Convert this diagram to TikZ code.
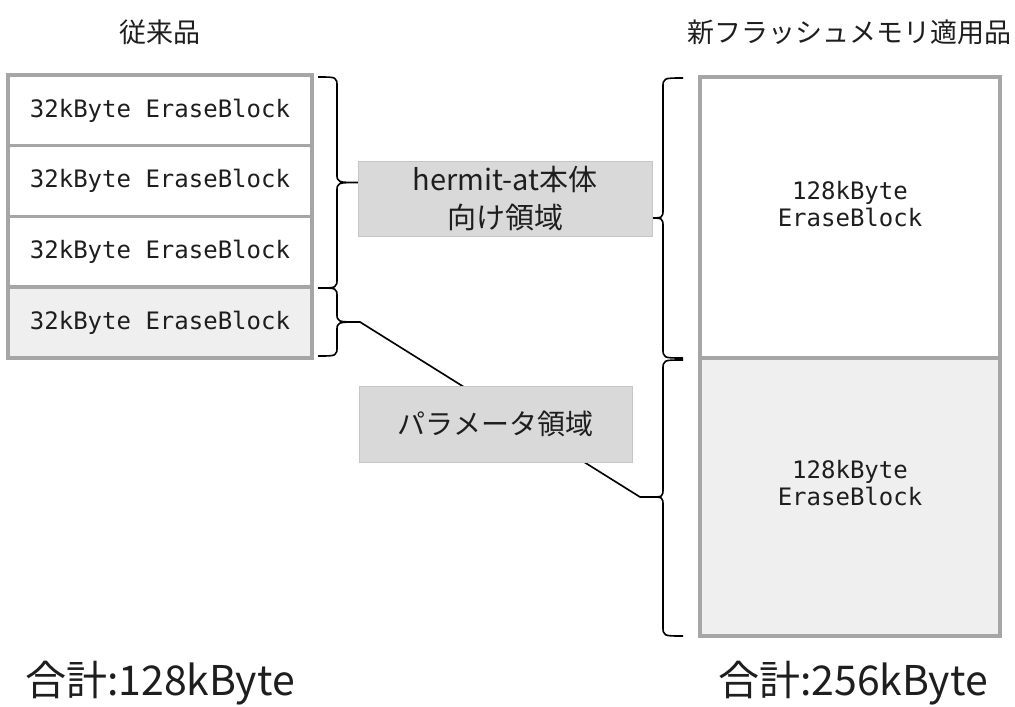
\documentclass[tikz,border=0pt]{standalone}
\usepackage{fontspec}
\setmainfont{Noto Sans CJK JP}
\newfontfamily\monof{DejaVu Sans Mono}
\definecolor{blkborder}{HTML}{A6A6A6}
\definecolor{lightfill}{HTML}{EFEFEF}
\definecolor{midfill}{HTML}{D9D9D9}
\definecolor{midborder}{HTML}{C6C6C6}
\definecolor{txt}{HTML}{1E1E1E}
\tikzset{
  blk/.style={draw=blkborder, line width=3.5pt, fill=white, inner sep=0pt, outer sep=0pt},
  monotext/.style={text=txt, font=\monof\fontsize{24}{27}\selectfont, align=center, inner sep=0pt},
  midbox/.style={draw=midborder, line width=0.8pt, fill=midfill, inner sep=0pt, outer sep=0pt, text=txt, align=center},
  bracestyle/.style={draw=black, line width=1.6pt, line join=round},
  conn/.style={draw=black, line width=1.6pt, line join=round},
  title/.style={text=txt, font=\fontsize{27}{30}\selectfont, inner sep=0pt},
  total/.style={text=txt, font=\fontsize{41}{46}\selectfont, inner sep=0pt}
}
\begin{document}
\begin{tikzpicture}[x=1pt,y=-1pt]
\useasboundingbox (0,0) rectangle (1015,707);

% titles
\node[title] (t1) at (160,32) {従来品};
\node[title] (t2) at (849,32) {新フラッシュメモリ適用品};

% left blocks
\node[blk, minimum width=304pt, minimum height=70.75pt] (b1) at (160,110.4) {};
\node[blk, minimum width=304pt, minimum height=70.75pt] (b2) at (160,181.1) {};
\node[blk, minimum width=304pt, minimum height=70.75pt] (b3) at (160,251.9) {};
\node[blk, fill=lightfill, minimum width=304pt, minimum height=70.75pt] (b4) at (160,322.6) {};
\node[monotext] (b1t) at (b1.center) {32kByte EraseBlock};
\node[monotext] (b2t) at (b2.center) {32kByte EraseBlock};
\node[monotext] (b3t) at (b3.center) {32kByte EraseBlock};
\node[monotext] (b4t) at (b4.center) {32kByte EraseBlock};

% right blocks
\node[blk, minimum width=300pt, minimum height=281pt] (r1) at (850,217.5) {};
\node[blk, fill=lightfill, minimum width=300pt, minimum height=278pt] (r2) at (850,497) {};
\node[monotext] (r1t) at (850,204) {128kByte\\EraseBlock};
\node[monotext] (r2t) at (850,483.5) {128kByte\\EraseBlock};

% brace tips
\coordinate (tipA) at (360,182.5);
\coordinate (tipB) at (360,322);
\coordinate (tipC) at (648,218);
\coordinate (tipD) at (650,497);
\coordinate (bend) at (640,497);

% connector (behind parameter box)
\draw[conn] (tipB) -- (bend) -- (tipD);

% braces
\draw[bracestyle] (318,77) .. controls (337,77) .. (337,87) -- (337,173.5) .. controls (337,182.5) .. (tipA)
  .. controls (337,182.5) .. (337,191.5) -- (337,278) .. controls (337,288) .. (318,288);
\draw[bracestyle] (318,288) .. controls (337,288) .. (337,297) -- (337,313) .. controls (337,322) .. (tipB)
  .. controls (337,322) .. (337,331) -- (337,346) .. controls (337,356) .. (318,356);
\draw[bracestyle] (683,78) .. controls (663,78) .. (663,88) -- (663,209) .. controls (663,218) .. (tipC)
  .. controls (663,218) .. (663,227) -- (663,348) .. controls (663,358) .. (683,358);
\draw[bracestyle] (683,360) .. controls (663,360) .. (663,370) -- (663,488) .. controls (663,497) .. (tipD)
  .. controls (663,497) .. (663,506) -- (663,626) .. controls (663,636) .. (683,636);

% middle boxes
\node[midbox, minimum width=294pt, minimum height=75pt, font=\fontsize{29}{38}\selectfont] (herm) at (505,198.5) {hermit-at本体\\向け領域};
\node[midbox, minimum width=273pt, minimum height=76pt, font=\fontsize{28}{30}\selectfont] (param) at (495.5,424) {パラメータ領域};

% totals
\node[total] (s1) at (160,683) {合計:128kByte};
\node[total] (s2) at (853,683) {合計:256kByte};
\end{tikzpicture}
\end{document}
